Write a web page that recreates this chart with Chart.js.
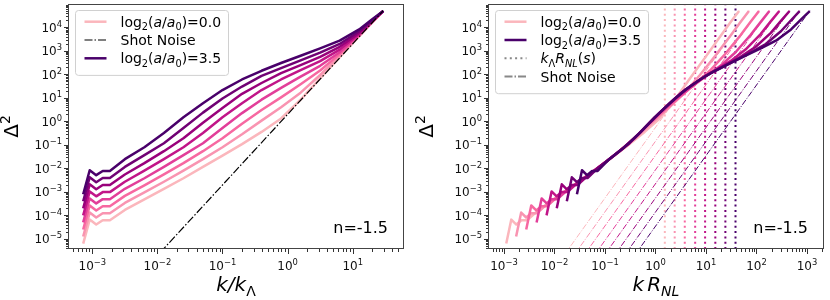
<!DOCTYPE html>
<html>
<head>
<meta charset="utf-8">
<script src="https://cdn.jsdelivr.net/npm/chart.js@4.4.0/dist/chart.umd.min.js"></script>
<style>
  body { margin: 0; background: #fff; }
  #wrap { position: relative; width: 830px; height: 300px; }
  canvas { position: absolute; top: 0; }
</style>
</head>
<body>
<div id="wrap">
  <canvas id="left" width="415" height="300" style="left:0"></canvas>
  <canvas id="right" width="415" height="300" style="left:415px"></canvas>
</div>
<script>
// k/k_Lambda grid (log10) shared by all runs
const logK = [-3.14, -3.04, -2.94, -2.84, -2.73, -2.5, -2.2, -1.9, -1.6, -1.3, -1.0, -0.7, -0.4, -0.1, 0.2, 0.5, 0.8, 1.1, 1.3, 1.47];

// log10(Delta^2) for log2(a/a0) = 0.0 ... 3.5
const d00 = [-5.2, -4.18, -4.39, -4.21, -4.21, -3.77, -3.32, -2.87, -2.42, -1.94, -1.46, -0.97, -0.45, 0.12, 0.92, 1.83, 2.72, 3.62, 4.21, 4.69];
const d05 = [-4.9, -3.88, -4.09, -3.91, -3.91, -3.47, -3.02, -2.57, -2.10, -1.61, -1.10, -0.55, 0.03, 0.60, 1.22, 1.97, 2.78, 3.63, 4.21, 4.69];
const d10 = [-4.6, -3.58, -3.79, -3.61, -3.61, -3.17, -2.72, -2.26, -1.78, -1.27, -0.72, -0.10, 0.48, 1.02, 1.58, 2.16, 2.86, 3.65, 4.22, 4.69];
const d15 = [-4.3, -3.28, -3.49, -3.31, -3.31, -2.87, -2.42, -1.94, -1.44, -0.93, -0.28, 0.35, 0.92, 1.42, 1.90, 2.36, 2.94, 3.68, 4.23, 4.69];
const d20 = [-4.0, -2.98, -3.19, -3.01, -3.01, -2.57, -2.10, -1.61, -1.10, -0.50, 0.17, 0.77, 1.33, 1.78, 2.18, 2.56, 3.05, 3.71, 4.25, 4.69];
const d25 = [-3.7, -2.68, -2.89, -2.71, -2.71, -2.26, -1.78, -1.27, -0.72, -0.06, 0.57, 1.17, 1.63, 2.05, 2.39, 2.74, 3.17, 3.76, 4.27, 4.69];
const d30 = [-3.4, -2.38, -2.59, -2.41, -2.41, -1.94, -1.44, -0.93, -0.28, 0.37, 0.97, 1.48, 1.93, 2.26, 2.59, 2.92, 3.29, 3.83, 4.30, 4.69];
const d35 = [-3.1, -2.08, -2.29, -2.11, -2.11, -1.61, -1.10, -0.50, 0.17, 0.77, 1.33, 1.78, 2.15, 2.48, 2.79, 3.10, 3.43, 3.91, 4.34, 4.69];
const runs = [d00, d05, d10, d15, d20, d25, d30, d35];

// k_Lambda * R_NL for each output
const kRnl = [1.53, 2.4, 3.8, 6.1, 9.6, 15.3, 24.2, 38.4];

// shot noise line (k/k_Lambda, Delta^2)
const shotK = [0.008, 29.5];
const shotD = [1.0e-6, 5.1e4];

const colors = ['#fbb6bc', '#f994b1', '#f768a1', '#e23e99', '#c11588', '#99017b', '#700174', '#49006a'];

const yMin = Math.pow(10, -5.43), yMax = Math.pow(10, 4.99);
const FONT = '"DejaVu Sans", sans-serif';

function rich(ctx, segs, x, y, size, align) {
  const parts = segs.map(s => {
    const t = s[0], f = s[1] || '';
    const small = f.includes('b') || f.includes('p');
    const fs = small ? size * 0.7 : size;
    const font = (f.includes('i') ? 'italic ' : '') + fs + 'px ' + FONT;
    ctx.font = font;
    let dy = 0;
    if (f.includes('b')) dy = size * 0.27;
    if (f.includes('p')) dy = -size * 0.42;
    return { t, font, dy, w: ctx.measureText(t).width, gap: s[2] || 0 };
  });
  const total = parts.reduce((s, p) => s + p.w + p.gap, 0);
  let cx = align === 'center' ? x - total / 2 : align === 'right' ? x - total : x;
  ctx.textAlign = 'left';
  ctx.textBaseline = 'alphabetic';
  for (const p of parts) {
    cx += p.gap;
    ctx.font = p.font;
    ctx.fillText(p.t, cx, y + p.dy);
    cx += p.w;
  }
}

function expText(e) {
  return e < 0 ? '\u2212' + Math.abs(e) : String(e);
}

const deco = {
  id: 'deco',
  afterDraw(chart, args, o) {
    const ctx = chart.ctx, a = chart.chartArea;
    const xs = chart.scales.x, ys = chart.scales.y;
    ctx.save();
    ctx.strokeStyle = '#333';
    ctx.fillStyle = '#111';
    ctx.lineWidth = 1;

    // x ticks
    ctx.beginPath();
    for (let e = Math.floor(Math.log10(xs.min)); e <= Math.ceil(Math.log10(xs.max)); e++) {
      for (let m = 1; m < 10; m++) {
        const v = m * Math.pow(10, e);
        if (v < xs.min || v > xs.max) continue;
        const px = Math.round(xs.getPixelForValue(v)) + 0.5;
        ctx.moveTo(px, a.bottom);
        ctx.lineTo(px, a.bottom + (m === 1 ? 5 : 3));
      }
    }
    // y ticks
    for (let e = Math.floor(Math.log10(ys.min)); e <= Math.ceil(Math.log10(ys.max)); e++) {
      for (let m = 1; m < 10; m++) {
        const v = m * Math.pow(10, e);
        if (v < ys.min || v > ys.max) continue;
        const py = Math.round(ys.getPixelForValue(v)) + 0.5;
        ctx.moveTo(a.left, py);
        ctx.lineTo(a.left - (m === 1 ? 5 : 3), py);
      }
    }
    ctx.stroke();

    // tick labels
    for (let e = Math.ceil(Math.log10(xs.min)); e <= Math.floor(Math.log10(xs.max)); e++) {
      const px = xs.getPixelForValue(Math.pow(10, e));
      rich(ctx, [['10'], [expText(e), 'p']], px, 270, 12, 'center');
    }
    for (let e = Math.ceil(Math.log10(ys.min)); e <= Math.floor(Math.log10(ys.max)); e++) {
      const py = ys.getPixelForValue(Math.pow(10, e));
      rich(ctx, [['10'], [expText(e), 'p']], a.left - 7, py + 4.5, 12, 'right');
    }

    // frame
    ctx.strokeStyle = '#444';
    ctx.strokeRect(Math.round(a.left) - 0.5, Math.round(a.top) + 0.5,
      Math.round(a.right - a.left) + 1, Math.round(a.bottom - a.top) - 1);

    // axis titles
    ctx.fillStyle = '#000';
    ctx.save();
    ctx.translate(18, (a.top + a.bottom) / 2);
    ctx.rotate(-Math.PI / 2);
    rich(ctx, [['\u0394'], ['2', 'p']], 0, 0, 20, 'center');
    ctx.restore();
    rich(ctx, o.xTitle, (a.left + a.right) / 2, 291, 20, 'center');

    // n label
    ctx.font = '16px ' + FONT;
    ctx.textAlign = 'right';
    ctx.fillText('n=-1.5', a.right - 15, 233);

    // legend
    const L = o.legend;
    const bx = a.left + 6.5, by = 10.5, bw = 153, bh = 10 + 18.3 * L.length;
    ctx.beginPath();
    ctx.roundRect(bx, by, bw, bh, 3);
    ctx.fillStyle = 'rgba(255,255,255,0.85)';
    ctx.fill();
    ctx.strokeStyle = '#d0d0d0';
    ctx.stroke();
    L.forEach((it, i) => {
      const cy = 21.7 + 18.3 * i;
      ctx.beginPath();
      ctx.strokeStyle = it.color;
      ctx.lineWidth = it.width;
      ctx.setLineDash(it.dash || []);
      ctx.moveTo(bx + 9, cy);
      ctx.lineTo(bx + 31, cy);
      ctx.stroke();
      ctx.setLineDash([]);
      ctx.fillStyle = '#000';
      rich(ctx, it.text, bx + 45, cy + 5, 14, 'left');
    });
    ctx.restore();
  }
};

function pts(xs, ys) {
  return xs.map((x, j) => ({ x: x, y: ys[j] }));
}

const logLabel = v => [['log'], ['2', 'b'], ['('], ['a', 'i'], ['/'], ['a', 'i'], ['0', 'b'], [')=' + v]];

function baseOptions(xMin, xMax, padLeft, padRight, deco) {
  return {
    responsive: false,
    animation: false,
    events: [],
    layout: { padding: { left: padLeft, right: padRight, top: 4, bottom: 51 } },
    scales: {
      x: { type: 'logarithmic', min: xMin, max: xMax, display: false },
      y: { type: 'logarithmic', min: yMin, max: yMax, display: false }
    },
    plugins: { legend: { display: false }, tooltip: { enabled: false }, deco: deco }
  };
}

// Left panel: Delta^2 vs k/k_Lambda
const leftSets = runs.map((r, i) => ({
  data: pts(logK.map(v => Math.pow(10, v)), r.map(v => Math.pow(10, v))),
  borderColor: colors[i],
  borderWidth: 2.5,
  pointRadius: 0,
  borderJoinStyle: 'round',
  clip: 0,
  order: 8 - i
}));
leftSets.push({
  data: pts(shotK, shotD),
  borderColor: '#000',
  borderWidth: 1.2,
  borderDash: [8, 2, 1.5, 2],
  pointRadius: 0,
  clip: 0,
  order: 0
});

new Chart(document.getElementById('left'), {
  type: 'line',
  data: { datasets: leftSets },
  options: baseOptions(Math.pow(10, -3.358), Math.pow(10, 1.773), 69, 12, {
    xTitle: [['k/k', 'i'], ['\u039b', 'b']],
    legend: [
      { color: colors[0], width: 2.5, text: logLabel('0.0') },
      { color: '#000', width: 1.2, dash: [8, 2, 1.5, 2], text: [['Shot Noise']] },
      { color: colors[7], width: 2.5, text: logLabel('3.5') }
    ]
  }),
  plugins: [deco]
});

// Right panel: Delta^2 vs k R_NL
const rightSets = [];
runs.forEach((r, i) => {
  rightSets.push({
    data: pts(logK.map(v => Math.pow(10, v) * kRnl[i]), r.map(v => Math.pow(10, v))),
    borderColor: colors[i],
    borderWidth: 2.5,
    pointRadius: 0,
    borderJoinStyle: 'round',
    clip: 0,
    order: 8 - i
  });
  rightSets.push({
    data: pts(shotK.map(k => k * kRnl[i]), shotD),
    borderColor: colors[i],
    borderWidth: 1,
    borderDash: [6, 1.6, 1, 1.6],
    pointRadius: 0,
    clip: 0,
    order: 20
  });
  rightSets.push({
    data: pts([kRnl[i], kRnl[i]], [yMin, yMax]),
    borderColor: colors[i],
    borderWidth: 2,
    borderDash: [2, 3.3],
    pointRadius: 0,
    clip: 0,
    order: 30
  });
});

new Chart(document.getElementById('right'), {
  type: 'line',
  data: { datasets: rightSets },
  options: baseOptions(Math.pow(10, -3.297), Math.pow(10, 3.317), 74, 7, {
    xTitle: [['k', 'i'], ['R', 'i', 3], ['NL', 'ib']],
    legend: [
      { color: colors[0], width: 2.5, text: logLabel('0.0') },
      { color: colors[7], width: 2.5, text: logLabel('3.5') },
      { color: '#888', width: 2, dash: [2, 3.3], text: [['k', 'i'], ['\u039b', 'b'], ['R', 'i'], ['NL', 'ib'], ['('], ['s', 'i'], [')']] },
      { color: '#888', width: 2, dash: [8, 2, 1.5, 2], text: [['Shot Noise']] }
    ]
  }),
  plugins: [deco]
});
</script>
</body>
</html>
